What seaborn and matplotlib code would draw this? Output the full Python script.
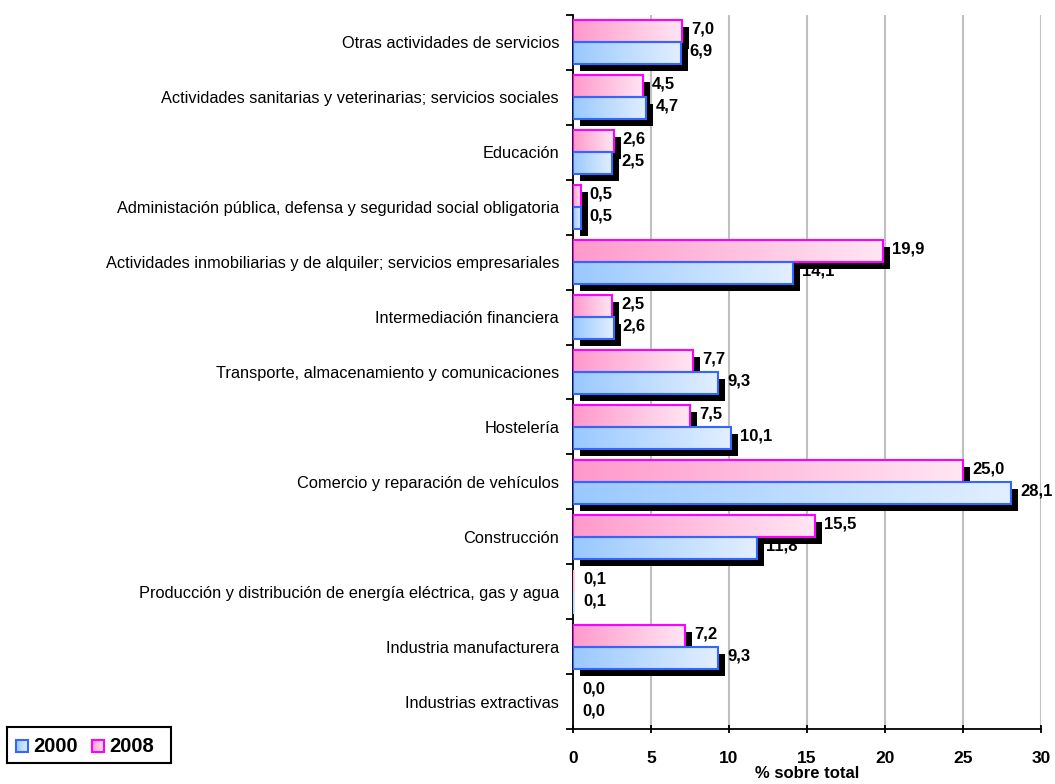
import numpy as np
import pandas as pd
import matplotlib
matplotlib.use("Agg")
import matplotlib.pyplot as plt
import matplotlib.transforms as mtransforms
from matplotlib.colors import LinearSegmentedColormap
from matplotlib.patches import Rectangle
import seaborn as sns

# Sectores (de arriba a abajo) y porcentaje sobre el total
sectores = [
    "Otras actividades de servicios",
    "Actividades sanitarias y veterinarias; servicios sociales",
    "Educación",
    "Administación pública, defensa y seguridad social obligatoria",
    "Actividades inmobiliarias y de alquiler; servicios empresariales",
    "Intermediación financiera",
    "Transporte, almacenamiento y comunicaciones",
    "Hostelería",
    "Comercio y reparación de vehículos",
    "Construcción",
    "Producción y distribución de energía eléctrica, gas y agua",
    "Industria manufacturera",
    "Industrias extractivas",
]
valores_2000 = [6.9, 4.7, 2.5, 0.5, 14.1, 2.6, 9.3, 10.1, 28.1, 11.8, 0.1, 9.3, 0.0]
valores_2008 = [7.0, 4.5, 2.6, 0.5, 19.9, 2.5, 7.7, 7.5, 25.0, 15.5, 0.1, 7.2, 0.0]
anios = ["2000", "2008"]
x_ticks = [0, 5, 10, 15, 20, 25, 30]

# Estilo de cada serie: degradado (izquierda -> derecha) y borde
estilo = {
    "2000": {"grad": ["#99c9ff", "#e2efff"], "borde": "#3366ff"},
    "2008": {"grad": ["#ff99cc", "#ffe6f3"], "borde": "#ff00ff"},
}

sns.set_style("white")
plt.rcParams["font.family"] = ["Liberation Sans", "DejaVu Sans"]
plt.rcParams["text.color"] = "black"
plt.rcParams["xtick.color"] = "black"
plt.rcParams["ytick.color"] = "black"
plt.rcParams["axes.labelcolor"] = "black"

df = pd.DataFrame({
    "sector": sectores * 2,
    "anio": [anios[0]] * len(sectores) + [anios[1]] * len(sectores),
    "valor": valores_2000 + valores_2008,
})

W, H, DPI = 1055, 784, 100
fig = plt.figure(figsize=(W / DPI, H / DPI), dpi=DPI)
ax = fig.add_axes([573 / W, 1 - 729 / H, 468 / W, 714 / H])

orden_hue = ["2008", "2000"]
sns.barplot(data=df, y="sector", x="valor", hue="anio", hue_order=orden_hue,
            order=sectores, orient="h", width=0.8, errorbar=None,
            legend=False, ax=ax)

sombra_tr = ax.transData + mtransforms.ScaledTranslation(7 / DPI, -7 / DPI, fig.dpi_scale_trans)
etiqueta_tr = ax.transData + mtransforms.ScaledTranslation(9 / DPI, 2 / DPI, fig.dpi_scale_trans)
gradiente = np.linspace(0, 1, 256).reshape(1, -1)

for anio, cont in zip(orden_hue, ax.containers):
    cmap = LinearSegmentedColormap.from_list("g" + anio, estilo[anio]["grad"])
    for barra in cont:
        x0, y0 = barra.get_x(), barra.get_y()
        w, h = barra.get_width(), barra.get_height()
        if w > 0:
            ax.imshow(gradiente, extent=(x0, x0 + w, y0 + h, y0), cmap=cmap,
                      aspect="auto", interpolation="bilinear", zorder=3)
        if w >= 0.3:
            ax.add_patch(Rectangle((x0, y0), w, h, transform=sombra_tr,
                                   facecolor="black", edgecolor="none", zorder=2))
        barra.set_facecolor("none")
        barra.set_edgecolor(estilo[anio]["borde"] if w >= 0.3 else "none")
        barra.set_linewidth(1.5)
        barra.set_zorder(4)
        ax.text(x0 + w, y0 + h / 2, f"{w:.1f}".replace(".", ","),
                transform=etiqueta_tr, ha="left", va="center",
                fontsize=12, fontweight="bold", color="black", zorder=1.5)

ax.set_xlim(0, 30)
ax.set_ylim(len(sectores) - 0.5, -0.5)
ax.set_xticks(x_ticks)
ax.set_xticklabels([str(t) for t in x_ticks], fontsize=12.5, fontweight="bold")
ax.set_yticks(range(len(sectores)))
ax.set_yticklabels(sectores, fontsize=11.8)
ax.set_yticks(np.arange(-0.5, len(sectores), 1), minor=True)
ax.tick_params(axis="y", which="major", left=True, length=0, pad=10)
ax.tick_params(axis="y", which="minor", left=True, length=5, width=1.3, color="black", direction="out")
ax.tick_params(axis="x", which="major", bottom=True, length=6, width=1.3, color="black",
               direction="inout", pad=13)
ax.set_xlabel("% sobre total", fontsize=12, fontweight="bold", labelpad=0)
ax.set_ylabel("")

ax.set_axisbelow(True)
ax.xaxis.grid(True, color="#c0c0c0", linewidth=1.5)
ax.yaxis.grid(False)
for lado in ["top", "right"]:
    ax.spines[lado].set_visible(False)
for lado in ["left", "bottom"]:
    ax.spines[lado].set_color("black")
    ax.spines[lado].set_linewidth(1.3)

# Leyenda con recuadro
lax = fig.add_axes([7 / W, 1 - 763 / H, 164 / W, 36 / H])
lax.set_xticks([])
lax.set_yticks([])
for s in lax.spines.values():
    s.set_color("black")
    s.set_linewidth(1.5)
for anio, xs, xt in [("2000", 9, 26), ("2008", 85, 102)]:
    cmap = LinearSegmentedColormap.from_list("l" + anio, estilo[anio]["grad"])
    lax.imshow(gradiente, extent=(xs, xs + 12, 11, 23), cmap=cmap, aspect="auto",
               interpolation="bilinear", zorder=2)
    lax.add_patch(Rectangle((xs, 11), 12, 12, facecolor="none",
                            edgecolor=estilo[anio]["borde"], linewidth=1.5, zorder=3))
    lax.text(xt, 17, anio, ha="left", va="center", fontsize=14.5, fontweight="bold")
lax.set_xlim(0, 164)
lax.set_ylim(0, 36)

fig.savefig("out.png", dpi=DPI)
